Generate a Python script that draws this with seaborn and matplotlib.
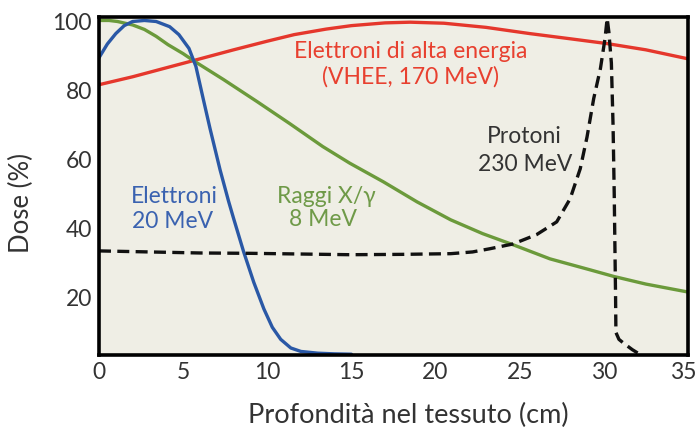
import pandas as pd
import seaborn as sbn
import matplotlib.pyplot as plt
from matplotlib.transforms import ScaledTranslation

# profondita (cm) e dose (%)
x_vhee = [0, 2, 4, 5.7, 8, 10, 11.6, 13.5, 15, 17, 18.5, 20.5, 23, 25.6, 28, 30.2, 32.5, 35]
y_vhee = [81.7, 84, 86.6, 88.8, 91.8, 94.3, 96.2, 97.8, 98.8, 99.6, 99.8, 99.5, 98.3, 96.5, 95, 93.6, 91.8, 89.2]

x_elettroni = [0, 0.5, 1.0, 1.5, 2.0, 2.7, 3.4, 4.2, 4.75, 5.35, 5.76, 6.2, 6.6, 7.2, 7.7, 8.0, 8.6, 9.2,
               9.8, 10.3, 10.8, 11.4, 12.0, 13.0, 14.0, 15.0]
y_elettroni = [89.5, 93.5, 96.5, 98.8, 100, 100.3, 100, 98.5, 96.2, 92.2, 87, 77.5, 69, 57, 48, 43, 33.3, 24.5,
               16.8, 11.5, 8, 5.5, 4.5, 4.0, 3.8, 3.7]

x_raggi = [0, 0.6, 1.1, 2.0, 2.7, 3.4, 4.1, 5.0, 5.7, 7.4, 9.4, 11.35, 13.3, 14.9, 16.9, 18.9,
           20.9, 22.8, 24.6, 26.8, 29.2, 30.6, 32.5, 35.0]
y_raggi = [100.3, 100.3, 100, 99, 97.7, 95.7, 93.3, 90.7, 88.4, 83.2, 76.8, 70.4, 63.8, 59.0, 53.6, 47.8,
           42.6, 38.6, 35.4, 31.3, 28.1, 26.2, 24.0, 21.7]

x_protoni = [0, 3, 6, 9, 12, 14.9, 18, 20.9, 22.2, 23.2, 24.6, 26.0, 27.2, 28.0, 28.6, 29.0, 29.4,
             29.8, 30.07, 30.2, 30.3, 30.45, 30.55, 30.62, 30.66, 30.7, 30.72, 30.9, 31.2, 31.7, 32.2]
y_protoni = [33.6, 33.3, 33.0, 32.9, 32.7, 32.5, 32.6, 32.8, 33.3, 34.2, 35.6, 38.3, 42, 48.7, 57.4, 66.5,
             77.7, 86.4, 95, 100.9, 97, 88, 70, 50, 35, 20, 10, 8, 6.8, 5, 3.5]

x_ticks = [0, 5, 10, 15, 20, 25, 30, 35]
y_ticks = [20, 40, 60, 80, 100]

rosso = "#e5372c"
blu = "#2a58a6"
verde = "#6b9a3b"
grigio = "#333333"

sbn.set_theme(style="white")
plt.rcParams['font.family'] = ['Lato', 'DejaVu Sans']

fig = plt.figure(figsize=(6.97, 4.36), dpi=100)
ax = fig.add_axes([0.142, 0.186, 0.845, 0.775])
ax.set_facecolor("#efeee5")

df_vhee = pd.DataFrame({"x": x_vhee, "y": y_vhee})
df_el = pd.DataFrame({"x": x_elettroni, "y": y_elettroni})
df_rx = pd.DataFrame({"x": x_raggi, "y": y_raggi})
df_pr = pd.DataFrame({"x": x_protoni, "y": y_protoni})

sbn.lineplot(data=df_vhee, x="x", y="y", color=rosso, linewidth=2.4, sort=False, estimator=None, ax=ax)
sbn.lineplot(data=df_rx, x="x", y="y", color=verde, linewidth=2.4, sort=False, estimator=None, ax=ax)
sbn.lineplot(data=df_el, x="x", y="y", color=blu, linewidth=2.4, sort=False, estimator=None, ax=ax)
sbn.lineplot(data=df_pr, x="x", y="y", color="#111111", linewidth=2.4, sort=False, estimator=None,
             linestyle=(0, (3.6, 1.9)), ax=ax)

ax.set_xlim(0, 35)
ax.set_ylim(3.5, 101.3)
ax.set_xticks(x_ticks)
ax.set_yticks(y_ticks)
ax.tick_params(length=0, labelsize=16.5, labelcolor=grigio, pad=5)

# l'ultima etichetta (35) un po' a sinistra per non uscire dal bordo
ultima = ax.get_xticklabels()[-1]
ultima.set_transform(ultima.get_transform() + ScaledTranslation(-5 / 100, 0, fig.dpi_scale_trans))

for s in ax.spines.values():
    s.set_color("black")
    s.set_linewidth(2.6)

ax.set_xlabel("Profondità nel tessuto (cm)", fontsize=19.5, color=grigio, va="center")
ax.set_ylabel("Dose (%)", fontsize=18.5, color=grigio, va="center")
ax.xaxis.set_label_coords(0.525, -0.178)
ax.yaxis.set_label_coords(-0.131, 0.45)

fs = 16.5
ax.text(18.5, 91.3, "Elettroni di alta energia", color="#e8402f", fontsize=fs, ha="center", va="center")
ax.text(18.5, 84, "(VHEE, 170 MeV)", color="#e8402f", fontsize=fs, ha="center", va="center")
ax.text(4.5, 49.3, "Elettroni", color="#3a62b0", fontsize=fs, ha="center", va="center")
ax.text(4.4, 42, "20 MeV", color="#3a62b0", fontsize=fs, ha="center", va="center")
ax.text(13.5, 49.3, "Raggi X/γ", color="#6f9a48", fontsize=fs, ha="center", va="center")
ax.text(13.3, 42.6, "8 MeV", color="#6f9a48", fontsize=fs, ha="center", va="center")
ax.text(25.3, 66.7, "Protoni", color=grigio, fontsize=fs, ha="center", va="center")
ax.text(25.3, 58.6, "230 MeV", color=grigio, fontsize=fs, ha="center", va="center")

fig.savefig("out.png", dpi=100, facecolor="white")
